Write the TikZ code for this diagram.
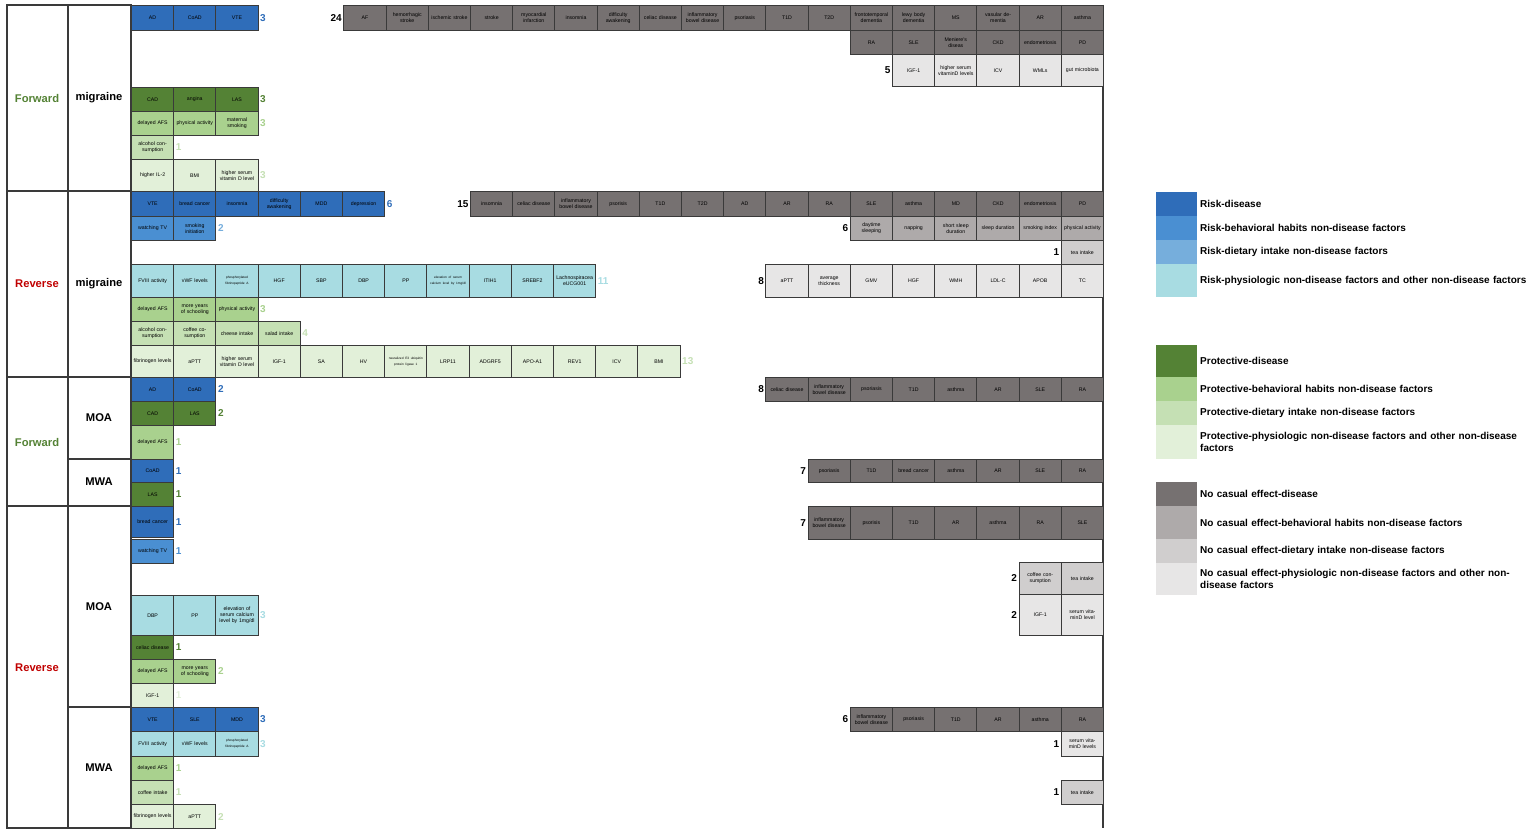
\documentclass[tikz,border=0pt]{standalone}
\usepackage{fontspec}
\setmainfont{Liberation Sans}
\definecolor{rD}{HTML}{2F6DB9}\definecolor{rB}{HTML}{4A8FD2}\definecolor{rT}{HTML}{76AEDC}\definecolor{rP}{HTML}{A8DCE2}
\definecolor{pD}{HTML}{548235}\definecolor{pB}{HTML}{A9D18E}\definecolor{pT}{HTML}{C5E0B4}\definecolor{pP}{HTML}{E2F0D9}
\definecolor{nD}{HTML}{767171}\definecolor{nB}{HTML}{AEAAAA}\definecolor{nT}{HTML}{D0CECE}\definecolor{nP}{HTML}{E7E6E6}
\definecolor{lnc}{HTML}{3A3A3A}
\tikzset{
 cell/.style={draw=lnc,line width=0.5pt,anchor=north west,minimum width=21.1pt,text width=19.6pt,inner sep=0.3pt,align=center,font=\fontsize{2.6}{3}\selectfont},
 cnt/.style={font=\fontsize{5}{6}\selectfont\bfseries,inner sep=0.6pt},
 grp/.style={font=\fontsize{5.6}{7}\selectfont\bfseries},
 leg/.style={anchor=west,text width=166pt,align=left,font=\fontsize{5}{6}\selectfont\bfseries,inner sep=1pt},
 sw/.style={anchor=north west,minimum width=20.5pt,inner sep=0pt},
 frame/.style={draw=lnc,line width=0.6pt}
}
% left row: name, y, height(px), fill, count, countcolor, list
\newcommand\lrow[7]{%
 \foreach \t [count=\i] in {#7} {\node[cell,fill=#4,minimum height=#3*0.5pt] (#1-\i) at ({131+(\i-1)*42.2},#2) {\t};\xdef\lastidx{\i}}%
 \node[cnt,anchor=west,text=#6] (#1-n) at (#1-\lastidx.east) {#5};}
% right row: name, x start, y, height, fill, count, list
\newcommand\rrow[7]{%
 \foreach \t [count=\i] in {#7} {\node[cell,fill=#5,minimum height=#4*0.5pt,text=black] (#1-\i) at ({#2+(\i-1)*42.2},#3) {\t};}%
 \node[cnt,anchor=east] (#1-n) at (#1-1.west) {#6};}
\begin{document}
\begin{tikzpicture}[x=0.5pt,y=-0.5pt]
\useasboundingbox (0,0) rectangle (1535,834);
% frame
\draw[frame] (7,5) rectangle (131,828);
\draw[frame] (68,5) -- (68,828) (7,191) -- (131,191) (7,377) -- (131,377) (7,506) -- (131,506)
 (68,459) -- (131,459) (68,707) -- (131,707) (1103,5) -- (1103,828);
\node[grp,text=pD] (g1) at (37,98) {Forward};
\node[grp] (m1) at (99,98) {migraine};
\node[grp,text={rgb,255:red,192;green,0;blue,0}] (g2) at (37,284) {Reverse};
\node[grp] (m2) at (99,284) {migraine};
\node[grp,text=pD] (g3) at (37,442) {Forward};
\node[grp] (m3) at (99,418) {MOA};
\node[grp] (m4) at (99,482) {MWA};
\node[grp,text={rgb,255:red,192;green,0;blue,0}] (g4) at (37,668) {Reverse};
\node[grp] (m5) at (99,607) {MOA};
\node[grp] (m6) at (99,768) {MWA};
% Forward migraine
\lrow{a1}{5}{25}{rD}{3}{rD}{AD,CoAD,VTE}
\lrow{a2}{87}{24}{pD}{3}{pD}{CAD,angina,LAS}
\lrow{a3}{111}{24}{pB}{3}{pB}{delayed AFS,physical activity,maternal smoking}
\lrow{a4}{135}{24}{pT}{1}{pT}{alcohol consumption}
\lrow{a5}{159}{32}{pP}{3}{pT}{higher IL-2,BMI,higher serum vitamin D level}
\rrow{b1}{343.4}{5}{25}{nD}{24}{AF,hemorrhagic stroke,ischemic stroke,stroke,myocardial infarction,insomnia,difficulty awakening,celiac disease,inflammatory bowel disease,psoriasis,T1D,T2D,frontotemporal dementia,lewy body dementia,MS,vasular dementia,AR,asthma}
\foreach \t [count=\i] in {RA,SLE,Meniere's diseas,CKD,endometriosis,PD} {\node[cell,fill=nD,minimum height=12pt] (b2-\i) at ({849.8+(\i-1)*42.2},30) {\t};}
\rrow{b3}{892}{54}{32}{nP}{5}{IGF-1,higher serum vitaminD levels,ICV,WMLs,gut microbiota}
% Reverse migraine
\lrow{c1}{191}{25}{rD}{6}{rD}{VTE,bread cancer,insomnia,difficulty awakening,MDD,depression}
\lrow{c2}{216}{24}{rB}{2}{rT}{watching TV,smoking initiation}
\lrow{c3}{264}{33}{rP}{11}{rP}{FVIII activity,vWF levels,{\fontsize{1.6}{2}\selectfont phosphorylated fibrinopeptide A},HGF,SBP,DBP,PP,{\fontsize{1.6}{2}\selectfont elevation of serum calcium level by 1mg/dl},ITIH1,SREBF2,Lachnospiracea eUCG001}
\lrow{c4}{297}{24}{pB}{3}{pB}{delayed AFS,more years of schooling,physical activity}
\lrow{c5}{321}{24}{pT}{4}{pT}{alcohol consumption,coffee cosumption,cheese intake,salad intake}
\lrow{c6}{345}{32}{pP}{13}{pT}{fibrinogen levels,aPTT,higher serum vitamin D level,IGF-1,SA,HV,{\fontsize{1.6}{2}\selectfont neuralized E3 ubiquitin protein ligase 1},LRP11,ADGRF5,APO-A1,REV1,ICV,BMI}
\rrow{d1}{470}{191}{25}{nD}{15}{insomnia,celiac disease,inflammatory bowel disease,psorisis,T1D,T2D,AD,AR,RA,SLE,asthma,MD,CKD,endometriosis,PD}
\rrow{d2}{849.8}{216}{24}{nB}{6}{daytime sleeping,napping,short sleep duration,sleep duration,smoking index,physical activity}
\rrow{d3}{1060.8}{240}{24}{nT}{1}{tea intake}
\rrow{d4}{765.4}{264}{33}{nP}{8}{aPTT,average thickness,GMV,HGF,WMH,LDL-C,APOB,TC}
% Forward MOA / MWA
\lrow{e1}{377}{24}{rD}{2}{rD}{AD,CoAD}
\lrow{e2}{401}{24}{pD}{2}{pD}{CAD,LAS}
\lrow{e3}{425}{34}{pB}{1}{pB}{delayed AFS}
\lrow{e4}{459}{23}{rD}{1}{rD}{CoAD}
\lrow{e5}{482}{24}{pD}{1}{pD}{LAS}
\rrow{f1}{765.4}{377}{24}{nD}{8}{celiac disease,inflammatory bowel disease,psoriasis,T1D,asthma,AR,SLE,RA}
\rrow{f2}{807.6}{459}{23}{nD}{7}{psoriasis,T1D,bread cancer,asthma,AR,SLE,RA}
% Reverse MOA / MWA
\lrow{g1r}{506}{31}{rD}{1}{rD}{bread cancer}
\lrow{g2r}{539}{24}{rB}{1}{rB}{watching TV}
\lrow{g3r}{595}{40}{rP}{3}{rP}{DBP,PP,elevation of serum calcium level by 1mg/dl}
\lrow{g4r}{635}{24}{pD}{1}{pD}{celiac disease}
\lrow{g5r}{659}{24}{pB}{2}{pB}{delayed AFS,more years of schooling}
\lrow{g6r}{683}{24}{pP}{1}{pP}{IGF-1}
\lrow{h1}{707}{24}{rD}{3}{rD}{VTE,SLE,MDD}
\lrow{h2}{731}{25}{rP}{3}{rP}{FVIII activity,vWF levels,{\fontsize{1.6}{2}\selectfont phosphorylated fibrinopeptide A}}
\lrow{h3}{756}{24}{pB}{1}{pB}{delayed AFS}
\lrow{h4}{780}{24}{pT}{1}{pT}{coffee intake}
\lrow{h5}{804}{24}{pP}{2}{pT}{fibrinogen levels,aPTT}
\rrow{i1}{807.6}{506}{33}{nD}{7}{inflammatory bowel disease,psorisis,T1D,AR,asthma,RA,SLE}
\rrow{i2}{1018.6}{562}{32}{nT}{2}{coffee consumption,tea intake}
\rrow{i3}{1018.6}{594}{41}{nP}{2}{IGF-1,serum vitaminD level}
\rrow{i4}{849.8}{707}{24}{nD}{6}{inflammatory bowel disease,psoriasis,T1D,AR,asthma,RA}
\rrow{i5}{1060.8}{731}{25}{nP}{1}{serum vitaminD levels}
\rrow{i6}{1060.8}{780}{24}{nT}{1}{tea intake}
% legend
\foreach \c/\y/\h/\t [count=\k] in {
 rD/192/24/Risk-disease,
 rB/216/24/Risk-behavioral habits non-disease factors,
 rT/240/24/Risk-dietary intake non-disease factors,
 rP/264/33/Risk-physiologic non-disease factors and other non-disease factors,
 pD/345/32/Protective-disease,
 pB/377/24/Protective-behavioral habits non-disease factors,
 pT/401/24/Protective-dietary intake non-disease factors,
 pP/425/34/Protective-physiologic non-disease factors and other non-disease factors,
 nD/482/24/No casual effect-disease,
 nB/506/33/No casual effect-behavioral habits non-disease factors,
 nT/539/24/No casual effect-dietary intake non-disease factors,
 nP/563/32/No casual effect-physiologic non-disease factors and other non-disease factors}
 {\node[sw,fill=\c,minimum height=\h*0.5pt] (sw\k) at (1156,\y) {};
  \node[leg] (lg\k) at (sw\k.east) {\t};}
\end{tikzpicture}
\end{document}
